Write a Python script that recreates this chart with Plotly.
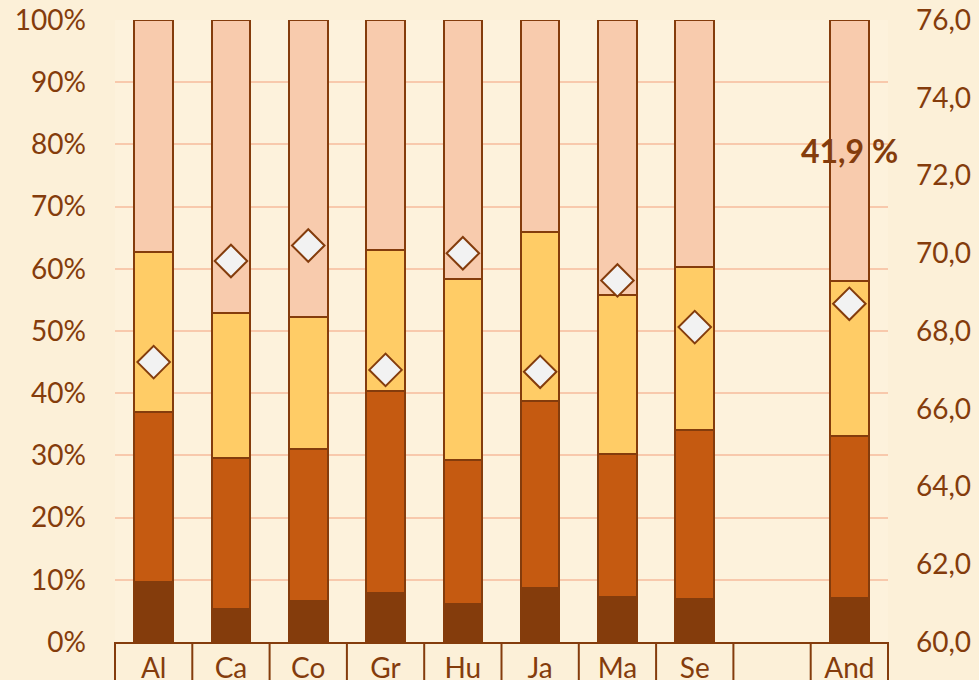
import plotly.graph_objects as go

# categories (blank slot before the average column)
categories = ['Al', 'Ca', 'Co', 'Gr', 'Hu', 'Ja', 'Ma', 'Se', ' ', 'And']

# stacked shares in %, bottom to top
seg1 = [9.6, 5.3, 6.6, 7.9, 6.1, 8.7, 7.2, 6.9, None, 7.1]
seg2 = [27.4, 24.3, 24.4, 32.5, 23.2, 30.0, 23.0, 27.2, None, 26.0]
seg3 = [25.7, 23.3, 21.3, 22.6, 29.1, 27.2, 25.6, 26.2, None, 25.0]
seg4 = [37.3, 47.1, 47.7, 37.0, 41.6, 34.1, 44.2, 39.7, None, 41.9]

# diamonds, right axis
index_vals = [67.2, 69.8, 70.2, 67.0, 70.0, 66.95, 69.3, 68.1, None, 68.7]

seg_colors = ['#843C0C', '#C55A11', '#FFCC66', '#F8CBAD']
brown = '#843C0C'
font_name = 'Lato'

fig = go.Figure()

for vals, col in zip([seg1, seg2, seg3, seg4], seg_colors):
    fig.add_trace(go.Bar(x=categories, y=vals, marker_color=col,
                         marker_line_color=brown, marker_line_width=2,
                         width=0.5, showlegend=False, hoverinfo='skip'))

fig.add_trace(go.Scatter(x=categories, y=index_vals, yaxis='y2', mode='markers',
                         marker=dict(symbol='diamond', size=25, color='#F2F2F2',
                                     line=dict(color=brown, width=2)),
                         showlegend=False))

# label on top segment of the last column
last_top = seg4[-1]
fig.add_annotation(x=categories[-1], y=100 - last_top / 2,
                   text=f'<b>{last_top:.1f} %</b>'.replace('.', ','),
                   showarrow=False, font=dict(size=32, color=brown, family=font_name),
                   xanchor='center', yanchor='middle')

# boxes under the category labels
n = len(categories)
for i in range(n + 1):
    fig.add_shape(type='line', xref='paper', yref='paper', x0=i / n, x1=i / n,
                  y0=0, y1=-0.08, line=dict(color=brown, width=2))

fig.update_layout(
    barmode='stack',
    width=979, height=680,
    margin=dict(l=115, r=91, t=20, b=38),
    paper_bgcolor='#FCF0D8', plot_bgcolor='#FDF2DC',
    separators=', ',
    font=dict(family=font_name, color=brown, size=28),
    xaxis=dict(type='category', range=[-0.5, n - 0.5], showline=True,
               linecolor=brown, linewidth=2, ticks='', tickfont=dict(size=28),
               showgrid=False, automargin=False),
    yaxis=dict(range=[0, 100], dtick=10, ticksuffix='%', showgrid=True,
               gridcolor='#F8C9AC', gridwidth=1.5, zeroline=False,
               tickfont=dict(size=28), ticklabelstandoff=28, automargin=False),
    yaxis2=dict(range=[60, 76], dtick=2, tickformat='.1f', overlaying='y',
                side='right', showgrid=False, zeroline=False,
                tickfont=dict(size=28), ticklabelstandoff=27, automargin=False),
)

fig.write_html('out.html', config={'displayModeBar': False},
               post_script="document.body.style.margin='0px';")
